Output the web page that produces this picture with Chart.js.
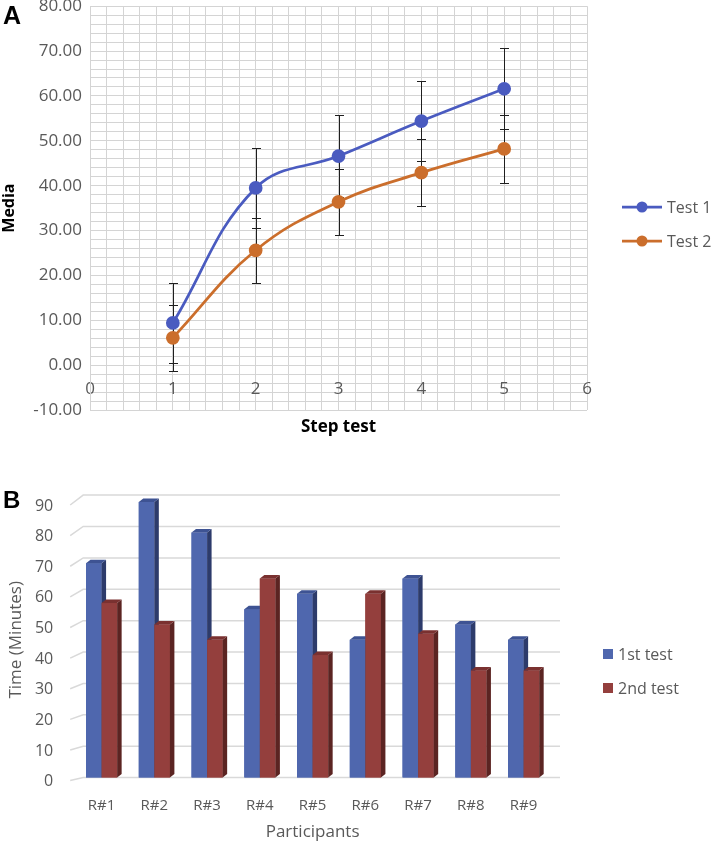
<!DOCTYPE html>
<html>
<head>
<meta charset="utf-8">
<script src="https://cdn.jsdelivr.net/npm/chart.js@4.4.1/dist/chart.umd.min.js"></script>
<style>
body { margin: 0; width: 711px; height: 846px; position: relative; background: #fff; overflow: hidden; }
#wrapA { position: absolute; left: 0; top: -12px; width: 711px; height: 462px; }
#wrapB { position: absolute; left: 0; top: 470px; width: 711px; height: 376px; }
.tag { position: absolute; font: bold 25px 'Liberation Sans', Arial, sans-serif; line-height: 1; color: #000; z-index: 2; }
</style>
</head>
<body>
<div id="wrapA"><canvas id="chartA"></canvas></div>
<div id="wrapB"><canvas id="chartB"></canvas></div>
<div class="tag" style="left:3px;top:3px">A</div>
<div class="tag" style="left:3px;top:488px;font-size:24px">B</div>
<script>
// chart A - step test means with error bars
var steps = [1, 2, 3, 4, 5];
var test1Mean = [9.4, 39.5, 46.6, 54.4, 61.6];
var test1Err = [9.0, 9.0, 9.1, 9.0, 9.0];
var test2Mean = [6.1, 25.6, 36.4, 42.9, 48.2];
var test2Err = [7.4, 7.3, 7.4, 7.4, 7.5];

// chart B - time per participant
var participants = ['R#1', 'R#2', 'R#3', 'R#4', 'R#5', 'R#6', 'R#7', 'R#8', 'R#9'];
var firstTest = [70, 90, 80, 55, 60, 45, 65, 50, 45];
var secondTest = [57, 50, 45, 65, 40, 60, 47, 35, 35];

Chart.defaults.font.family = "'Open Sans', sans-serif";
Chart.defaults.color = '#595959';

var toPoints = function(ys) {
    return steps.map(function(x, i) { return {x: x, y: ys[i]}; });
};

var errorBars = {
    id: 'errorBars',
    beforeDatasetsDraw: function(chart) {
        var ctx = chart.ctx, xs = chart.scales.x, ys = chart.scales.y;
        ctx.save();
        ctx.strokeStyle = '#1f1f1f';
        ctx.lineWidth = 1;
        chart.data.datasets.forEach(function(ds) {
            ds.data.forEach(function(p, i) {
                var x = Math.round(xs.getPixelForValue(p.x)) + 0.5;
                var top = Math.round(ys.getPixelForValue(p.y + ds.errors[i])) + 0.5;
                var bot = Math.round(ys.getPixelForValue(p.y - ds.errors[i])) + 0.5;
                ctx.beginPath();
                ctx.moveTo(x, top); ctx.lineTo(x, bot);
                ctx.moveTo(x - 4.5, top); ctx.lineTo(x + 4.5, top);
                ctx.moveTo(x - 4.5, bot); ctx.lineTo(x + 4.5, bot);
                ctx.stroke();
            });
        });
        ctx.restore();
    }
};

var legendA = {
    id: 'legendA',
    afterDraw: function(chart) {
        var ctx = chart.ctx;
        ctx.save();
        ctx.font = "16px 'Open Sans'";
        ctx.textBaseline = 'middle';
        chart.data.datasets.forEach(function(ds, i) {
            var y = 219 + i * 34;
            ctx.strokeStyle = ds.borderColor;
            ctx.lineWidth = 2.75;
            ctx.beginPath(); ctx.moveTo(622, y); ctx.lineTo(662, y); ctx.stroke();
            ctx.fillStyle = ds.borderColor;
            ctx.beginPath(); ctx.arc(642, y, 5.5, 0, Math.PI * 2); ctx.fill();
            ctx.fillStyle = '#595959';
            ctx.fillText(ds.label, 667, y + 1);
        });
        ctx.restore();
    }
};

var configA = {
    type: 'line',
    data: {
        datasets: [{
            label: 'Test 1',
            data: toPoints(test1Mean),
            errors: test1Err,
            borderColor: '#4A5BC0',
            backgroundColor: '#4A5BC0',
            borderWidth: 2.75,
            pointRadius: 5.5,
            tension: 0.4
        }, {
            label: 'Test 2',
            data: toPoints(test2Mean),
            errors: test2Err,
            borderColor: '#CB6E2C',
            backgroundColor: '#CB6E2C',
            borderWidth: 2.75,
            pointRadius: 5.5,
            tension: 0.4
        }]
    },
    options: {
        responsive: true,
        maintainAspectRatio: false,
        animation: false,
        layout: { padding: { left: 0, right: 124, top: 0, bottom: 40 } },
        plugins: { legend: { display: false }, tooltip: { enabled: false } },
        scales: {
            x: {
                type: 'linear',
                position: { y: 0 },
                min: 0,
                max: 6,
                ticks: {
                    stepSize: 0.2,
                    autoSkip: false,
                    maxRotation: 0,
                    padding: 13.8,
                    font: { size: 17 },
                    callback: function(v) {
                        return Math.abs(v - Math.round(v)) < 1e-6 ? String(Math.round(v)) : '';
                    }
                },
                grid: { color: '#D4D4D4', drawTicks: false },
                border: { color: '#D4D4D4' },
                title: {
                    display: true,
                    text: 'Step test',
                    color: '#000',
                    font: { size: 17, weight: 'bold' },
                    padding: { top: 3.8, bottom: 0 }
                }
            },
            y: {
                min: -10,
                max: 80,
                ticks: {
                    stepSize: 2,
                    autoSkip: false,
                    padding: 8,
                    font: { size: 17 },
                    callback: function(v) {
                        return Math.abs(v % 10) < 1e-6 ? v.toFixed(2) : '';
                    }
                },
                grid: { color: '#D4D4D4', drawTicks: false },
                border: { color: '#D4D4D4' },
                title: {
                    display: true,
                    text: 'Media',
                    color: '#000',
                    font: { size: 16, weight: 'bold' },
                    padding: { top: 0, bottom: 6 }
                }
            }
        }
    },
    plugins: [errorBars, legendA]
};

var backWall = {
    id: 'backWall',
    beforeDatasetsDraw: function(chart) {
        var ctx = chart.ctx, ys = chart.scales.y, area = chart.chartArea;
        var y0 = ys.getPixelForValue(0);
        ctx.save();
        ctx.strokeStyle = '#D9D9D9';
        ctx.lineWidth = 1.5;
        ys.ticks.forEach(function(t) {
            var yf = ys.getPixelForValue(t.value);
            var yb = y0 + (yf - y0) * 1.025;
            ctx.beginPath();
            ctx.moveTo(area.left - 5, yf + 3);
            ctx.lineTo(area.left + 8, yb);
            ctx.lineTo(area.right + 10, yb);
            ctx.stroke();
        });
        ctx.restore();
    }
};

var bars3d = {
    id: 'bars3d',
    afterDatasetsDraw: function(chart) {
        var ctx = chart.ctx, dx = 4.5, dy = 3.5;
        ctx.save();
        chart.data.labels.forEach(function(lab, i) {
            chart.data.datasets.forEach(function(ds, d) {
                var bar = chart.getDatasetMeta(d).data[i];
                var l = bar.x - bar.width / 2, r = bar.x + bar.width / 2, t = bar.y, b = bar.base;
                ctx.fillStyle = ds.backgroundColor;
                ctx.fillRect(l, t, r - l, b - t);
                ctx.fillStyle = ds.sideColor;
                ctx.beginPath();
                ctx.moveTo(r, t); ctx.lineTo(r + dx, t - dy); ctx.lineTo(r + dx, b - dy); ctx.lineTo(r, b);
                ctx.closePath(); ctx.fill();
                ctx.fillStyle = ds.topColor;
                ctx.beginPath();
                ctx.moveTo(l, t); ctx.lineTo(l + dx, t - dy); ctx.lineTo(r + dx, t - dy); ctx.lineTo(r, t);
                ctx.closePath(); ctx.fill();
            });
        });
        ctx.restore();
    }
};

var legendB = {
    id: 'legendB',
    afterDraw: function(chart) {
        var ctx = chart.ctx;
        ctx.save();
        ctx.font = "16px 'Open Sans'";
        ctx.textBaseline = 'middle';
        chart.data.datasets.forEach(function(ds, i) {
            var y = 184 + i * 34;
            ctx.fillStyle = ds.backgroundColor;
            ctx.fillRect(603, y - 5, 10, 10);
            ctx.fillStyle = '#595959';
            ctx.fillText(ds.label, 618, y + 1);
        });
        ctx.restore();
    }
};

var configB = {
    type: 'bar',
    data: {
        labels: participants,
        datasets: [{
            label: '1st test',
            data: firstTest,
            backgroundColor: '#4F67AE',
            sideColor: '#2D3B6B',
            topColor: '#3E5393'
        }, {
            label: '2nd test',
            data: secondTest,
            backgroundColor: '#943F3D',
            sideColor: '#5B2422',
            topColor: '#7A3130'
        }]
    },
    options: {
        responsive: true,
        maintainAspectRatio: false,
        animation: false,
        categoryPercentage: 0.59,
        barPercentage: 1,
        layout: { padding: { left: 5.5, right: 161, top: 32, bottom: 4 } },
        plugins: { legend: { display: false }, tooltip: { enabled: false } },
        scales: {
            x: {
                grid: { display: false, drawTicks: false },
                border: { display: false },
                ticks: { padding: 19, font: { size: 15 } },
                title: {
                    display: true,
                    text: 'Participants',
                    font: { size: 17 },
                    padding: { top: -12, bottom: 0 }
                }
            },
            y: {
                min: 0,
                max: 90,
                ticks: { stepSize: 10, padding: 22, labelOffset: 4, font: { size: 16 } },
                grid: { display: false, drawTicks: false },
                border: { display: false },
                title: {
                    display: true,
                    text: 'Time (Minutes)',
                    font: { size: 17 },
                    padding: { top: 0, bottom: -13 }
                }
            }
        }
    },
    plugins: [backWall, bars3d, legendB]
};

window.onload = function() {
    window.chartA = new Chart(document.getElementById('chartA').getContext('2d'), configA);
    window.chartB = new Chart(document.getElementById('chartB').getContext('2d'), configB);
};
</script>
</body>
</html>
